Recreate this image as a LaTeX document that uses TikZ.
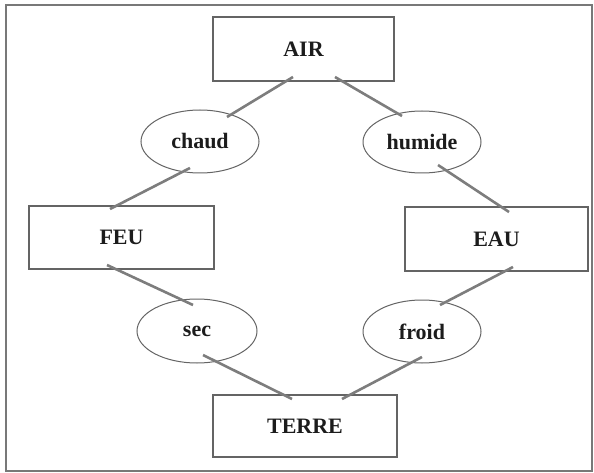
\documentclass[tikz,border=0pt]{standalone}
\usepackage{fontspec}
\setmainfont{Liberation Serif}
\usetikzlibrary{calc,shapes.geometric}
\definecolor{edgegray}{RGB}{100,100,100}
\definecolor{linkgray}{RGB}{125,125,125}
\definecolor{framegray}{RGB}{120,120,120}
\definecolor{inkdark}{RGB}{28,28,28}
\begin{document}
\begin{tikzpicture}[x=1pt,y=-1pt,
  label text/.style={font=\bfseries\fontsize{22}{26}\selectfont, text=inkdark},
  elembox/.style={draw=edgegray, line width=1.1pt, rectangle, inner sep=0pt, label text},
  quality/.style={draw=edgegray, line width=1.0pt, ellipse, inner sep=0pt, label text},
  link/.style={draw=linkgray, line width=2.6pt}]
  \useasboundingbox (0,0) rectangle (594,473);
  % outer frame
  \draw[framegray, line width=1.4pt] (6,5) rectangle (592,471);

  % the four elements
  \node[elembox, minimum width=181pt, minimum height=64pt] (air)   at (303.5,49)  {AIR};
  \node[elembox, minimum width=185pt, minimum height=63pt] (feu)   at (121.5,237.5) {FEU};
  \node[elembox, minimum width=183pt, minimum height=64pt] (eau)   at (496.5,239) {EAU};
  \node[elembox, minimum width=184pt, minimum height=62pt] (terre) at (305,426)   {TERRE};

  % the four qualities
  \node[quality, minimum width=118pt, minimum height=63pt] (chaud)  at (200,141.5) {chaud};
  \node[quality, minimum width=118pt, minimum height=62pt] (humide) at (422,142)   {humide};
  \node[quality, minimum width=120pt, minimum height=64pt] (sec)    at (197,331)   {sec};
  \node[quality, minimum width=118pt, minimum height=63pt] (froid)  at (422,331.5) {froid};

  % connectors
  \draw[link] ($(air.center)+(-10.5,28)$) -- ($(chaud.center)+(27,-24.5)$);
  \draw[link] ($(air.center)+(31.5,28)$) -- ($(humide.center)+(-20,-26)$);
  \draw[link] ($(chaud.center)+(-10,26.5)$) -- ($(feu.center)+(-11.5,-28.5)$);
  \draw[link] ($(humide.center)+(16,23)$) -- ($(eau.center)+(12.5,-27)$);
  \draw[link] ($(feu.center)+(-14.5,27.5)$) -- ($(sec.center)+(-4,-26)$);
  \draw[link] ($(eau.center)+(16.5,28)$) -- ($(froid.center)+(18,-26.5)$);
  \draw[link] ($(sec.center)+(6,24)$) -- ($(terre.center)+(-13,-27)$);
  \draw[link] ($(froid.center)+(0,25.5)$) -- ($(terre.center)+(37,-27)$);
\end{tikzpicture}
\end{document}
